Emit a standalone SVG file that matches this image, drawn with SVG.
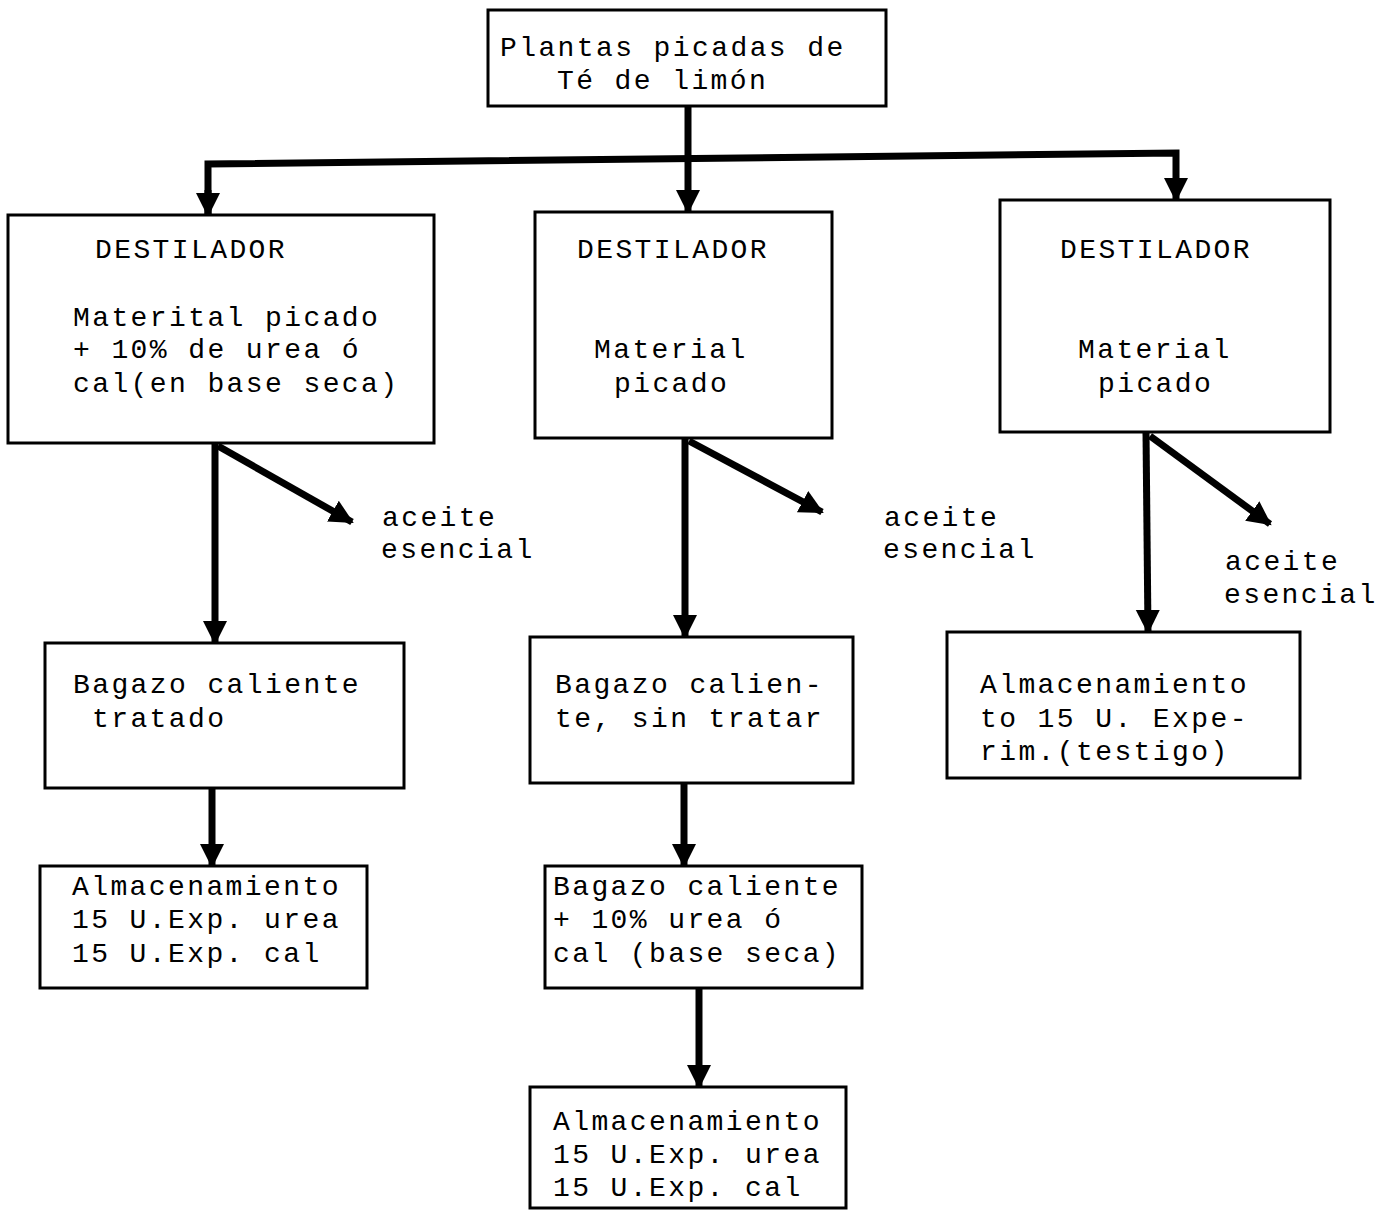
<svg xmlns="http://www.w3.org/2000/svg" width="1389" height="1210" viewBox="0 0 1389 1210">
<style>
.box{fill:#fff;stroke:#000;stroke-width:3}
.t{font-family:"Liberation Mono","DejaVu Sans Mono",monospace;font-size:28px;letter-spacing:2.4px;fill:#000}
.c{fill:none;stroke:#000;stroke-width:7}
</style>
<defs>
<marker id="ah" markerUnits="userSpaceOnUse" markerWidth="26" markerHeight="26" refX="22" refY="12" orient="auto" viewBox="0 0 26 24">
<path d="M0,0 L24,12 L0,24 z" fill="#000"/>
</marker>
</defs>
<rect width="1389" height="1210" fill="#fff"/>
<g id="connectors">
<line class="c" x1="688" y1="106" x2="688" y2="212" marker-end="url(#ah)"/>
<polyline class="c" points="208,215 208,164 1176,153 1176,200" stroke-linejoin="miter" marker-end="url(#ah)"/>
<line class="c" x1="208" y1="190" x2="208" y2="215" marker-end="url(#ah)"/>
<line class="c" x1="215" y1="443" x2="215" y2="643" marker-end="url(#ah)"/>
<line class="c" x1="218" y1="446" x2="352" y2="522" marker-end="url(#ah)"/>
<line class="c" x1="685" y1="438" x2="685" y2="637" marker-end="url(#ah)"/>
<line class="c" x1="689" y1="441" x2="822" y2="512" marker-end="url(#ah)"/>
<line class="c" x1="1146" y1="432" x2="1148" y2="632" marker-end="url(#ah)"/>
<line class="c" x1="1150" y1="436" x2="1270" y2="524" marker-end="url(#ah)"/>
<line class="c" x1="212" y1="788" x2="212" y2="866" marker-end="url(#ah)"/>
<line class="c" x1="684" y1="783" x2="684" y2="866" marker-end="url(#ah)"/>
<line class="c" x1="699" y1="988" x2="699" y2="1087" marker-end="url(#ah)"/>
</g>
<g id="n-plantas">
<rect class="box" x="488" y="10" width="398" height="96"/>
<text class="t" x="500" y="56">Plantas picadas de</text>
<text class="t" x="557" y="89">Té de limón</text>
</g>
<g id="n-dest1">
<rect class="box" x="8" y="215" width="426" height="228"/>
<text class="t" x="95" y="258">DESTILADOR</text>
<text class="t" x="73" y="326">Materital picado</text>
<text class="t" x="73" y="358">+ 10% de urea ó</text>
<text class="t" x="73" y="392">cal(en base seca)</text>
</g>
<g id="n-dest2">
<rect class="box" x="535" y="212" width="297" height="226"/>
<text class="t" x="577" y="258">DESTILADOR</text>
<text class="t" x="594" y="358">Material</text>
<text class="t" x="614" y="392">picado</text>
</g>
<g id="n-dest3">
<rect class="box" x="1000" y="200" width="330" height="232"/>
<text class="t" x="1060" y="258">DESTILADOR</text>
<text class="t" x="1078" y="358">Material</text>
<text class="t" x="1098" y="392">picado</text>
</g>
<g id="l-aceite1">
<text class="t" x="382" y="526">aceite</text>
<text class="t" x="381" y="558">esencial</text>
</g>
<g id="l-aceite2">
<text class="t" x="884" y="526">aceite</text>
<text class="t" x="883" y="558">esencial</text>
</g>
<g id="l-aceite3">
<text class="t" x="1225" y="570">aceite</text>
<text class="t" x="1224" y="603">esencial</text>
</g>
<g id="n-bagazo1">
<rect class="box" x="45" y="643" width="359" height="145"/>
<text class="t" x="73" y="693">Bagazo caliente</text>
<text class="t" x="92" y="727">tratado</text>
</g>
<g id="n-alm1">
<rect class="box" x="40" y="866" width="327" height="122"/>
<text class="t" x="72" y="895">Almacenamiento</text>
<text class="t" x="72" y="928">15 U.Exp. urea</text>
<text class="t" x="72" y="962">15 U.Exp. cal</text>
</g>
<g id="n-bagazo2">
<rect class="box" x="530" y="637" width="323" height="146"/>
<text class="t" x="555" y="693">Bagazo calien-</text>
<text class="t" x="555" y="727">te, sin tratar</text>
</g>
<g id="n-bagazo2b">
<rect class="box" x="545" y="866" width="317" height="122"/>
<text class="t" x="553" y="895">Bagazo caliente</text>
<text class="t" x="553" y="928">+ 10% urea ó</text>
<text class="t" x="553" y="962">cal (base seca)</text>
</g>
<g id="n-alm2">
<rect class="box" x="530" y="1087" width="316" height="121"/>
<text class="t" x="553" y="1130">Almacenamiento</text>
<text class="t" x="553" y="1163">15 U.Exp. urea</text>
<text class="t" x="553" y="1196">15 U.Exp. cal</text>
</g>
<g id="n-alm3">
<rect class="box" x="947" y="632" width="353" height="146"/>
<text class="t" x="980" y="693">Almacenamiento</text>
<text class="t" x="980" y="727">to 15 U. Expe-</text>
<text class="t" x="980" y="760">rim.(testigo)</text>
</g>
</svg>
